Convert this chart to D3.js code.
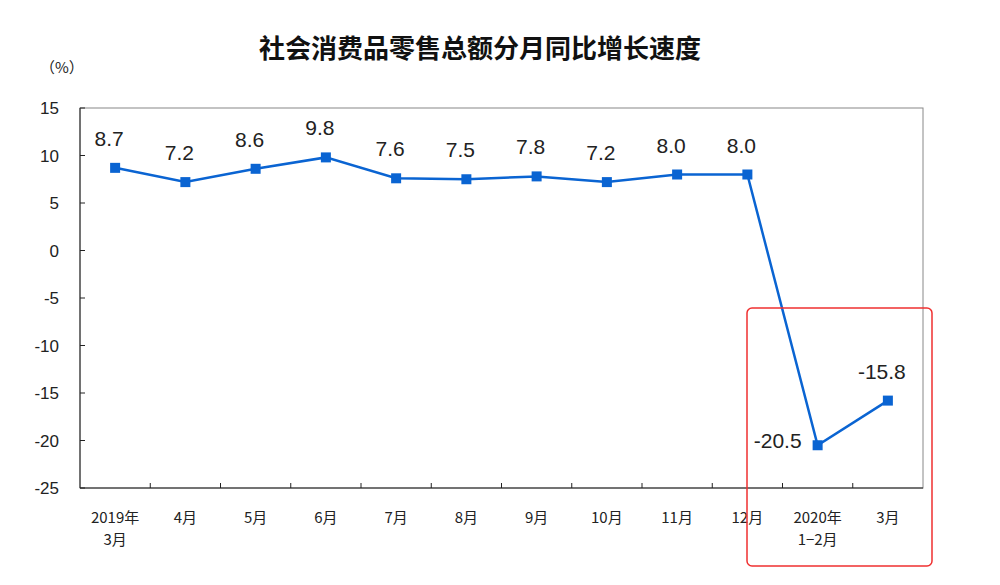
<!DOCTYPE html><html><head><meta charset="utf-8"><script src="https://cdn.jsdelivr.net/npm/d3@7"></script>
<style>body{margin:0;background:#fff}</style></head><body><svg id="c" width="1000" height="585"></svg><script>
const categories=[["2019年","3月"],["4月"],["5月"],["6月"],["7月"],["8月"],["9月"],["10月"],["11月"],["12月"],["2020年","1−2月"],["3月"]];
const values=[8.7,7.2,8.6,9.8,7.6,7.5,7.8,7.2,8.0,8.0,-20.5,-15.8];
const yTicks=[15,10,5,0,-5,-10,-15,-20,-25];
const svg=d3.select("#c");
const L=80,R=923,T=108,B=488;
const x=d3.scaleBand().domain(d3.range(categories.length)).range([L,R]);
const y=d3.scaleLinear().domain([-25,15]).range([B,T]);
const col="#0a64d2";
svg.append("rect").attr("x",L).attr("y",T).attr("width",R-L).attr("height",B-T).attr("fill","none").attr("stroke","#888");
svg.append("line").attr("x1",L).attr("x2",L).attr("y1",T).attr("y2",B).attr("stroke","#222");
svg.append("line").attr("x1",L).attr("x2",R).attr("y1",B).attr("y2",B).attr("stroke","#222");
yTicks.forEach(t=>{svg.append("line").attr("x1",L).attr("x2",L+5).attr("y1",y(t)).attr("y2",y(t)).attr("stroke","#222");
svg.append("text").attr("x",L-21).attr("y",y(t)+6).attr("text-anchor","end").attr("font-family","Liberation Sans").attr("font-size",17).attr("fill","#222").text(t);});
d3.range(1,categories.length).forEach(i=>svg.append("line").attr("x1",x(i)).attr("x2",x(i)).attr("y1",B).attr("y2",B-5).attr("stroke","#222"));
categories.forEach((c,i)=>c.forEach((s,j)=>svg.append("text").attr("x",x(i)+x.bandwidth()/2).attr("y",B+35+j*22).attr("text-anchor","middle").attr("font-family","Noto Sans CJK SC").attr("font-size",15).attr("fill","#222").text(s)));
svg.append("path").datum(values).attr("d",d3.line().x((d,i)=>x(i)+x.bandwidth()/2).y(d=>y(d))).attr("fill","none").attr("stroke",col).attr("stroke-width",2.5);
values.forEach((v,i)=>{const cx=x(i)+x.bandwidth()/2,cy=y(v);
svg.append("rect").attr("x",cx-5).attr("y",cy-5).attr("width",10).attr("height",10).attr("fill",col);
const left=i==10;
svg.append("text").attr("x",left?cx-16:cx-6).attr("y",left?cy+3:cy-22).attr("text-anchor",left?"end":"middle").attr("font-family","Liberation Sans").attr("font-size",21).attr("fill","#222").text(v.toFixed(1));});
svg.append("text").attr("x",480).attr("y",58).attr("text-anchor","middle").attr("font-family","Noto Sans CJK SC").attr("font-weight","bold").attr("font-size",26).attr("fill","#111").text("社会消费品零售总额分月同比增长速度");
svg.append("text").attr("x",40).attr("y",73).attr("font-family","Noto Sans CJK SC").attr("font-size",15).attr("fill","#222").text("（%）");
svg.append("rect").attr("x",747).attr("y",308).attr("width",185).attr("height",258).attr("rx",5).attr("fill","none").attr("stroke","#f03030").attr("stroke-width",1.5);
</script></body></html>
